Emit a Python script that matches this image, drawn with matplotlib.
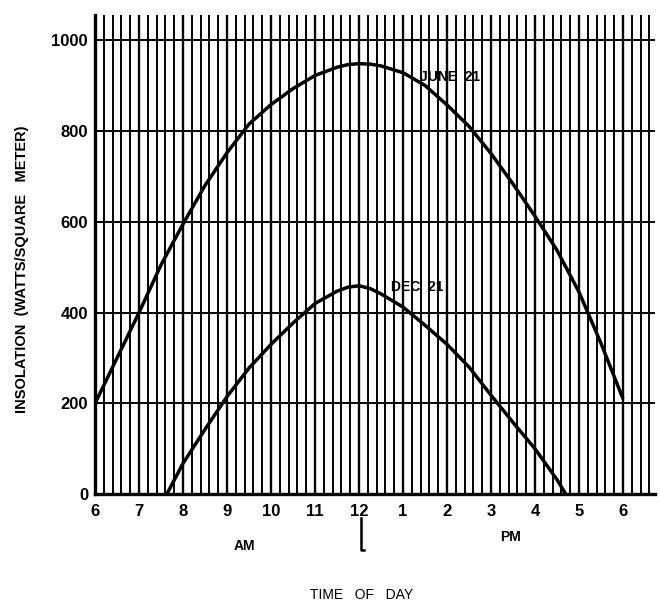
import numpy as np
import matplotlib
matplotlib.use('Agg')
import matplotlib.pyplot as plt
from matplotlib.ticker import MultipleLocator

# Insolation readings (hour of day, W/m^2)
june_hours = [6.0, 6.5, 7.0, 7.5, 8.0, 8.5, 9.0, 9.5, 10.0, 10.5, 11.0, 11.5, 11.75, 12.0,
              12.25, 12.5, 13.0, 13.5, 14.0, 14.5, 15.0, 15.5, 16.0, 16.5, 17.0, 17.5, 18.0]
june_values = [200, 300, 400, 505, 595, 680, 752, 815, 858, 893, 922, 940, 946, 948,
               947, 943, 928, 900, 857, 810, 750, 683, 612, 537, 445, 332, 210]

dec_hours = [7.63, 8.0, 8.5, 9.0, 9.5, 10.0, 10.5, 11.0, 11.5, 11.75, 12.0,
             12.25, 12.5, 13.0, 13.5, 14.0, 14.5, 15.0, 15.5, 16.0, 16.5, 16.7]
dec_values = [0, 68, 143, 215, 278, 330, 377, 420, 447, 456, 459,
              453, 441, 412, 372, 330, 280, 218, 158, 100, 32, 0]

hour_ticks = [6, 7, 8, 9, 10, 11, 12, 13, 14, 15, 16, 17, 18]
hour_labels = ['6', '7', '8', '9', '10', '11', '12', '1', '2', '3', '4', '5', '6']
y_ticks = [0, 200, 400, 600, 800, 1000]

plt.rcParams['font.family'] = ['Liberation Sans', 'DejaVu Sans']

fig = plt.figure(figsize=(6.6, 6.02), dpi=100)
ax = fig.add_axes([0.144, 0.179, 0.848, 0.796])

ax.set_xlim(6, 18.72)
ax.set_ylim(0, 1055)

# graph-paper grid: lines every 12 minutes, horizontal every 200
ax.set_xticks(hour_ticks)
ax.set_xticklabels(hour_labels, fontsize=12, fontweight='bold')
ax.xaxis.set_minor_locator(MultipleLocator(0.2))
ax.set_yticks(y_ticks)
ax.set_yticklabels([str(v) for v in y_ticks], fontsize=12, fontweight='bold')
ax.tick_params(which='both', length=0, pad=5)
ax.tick_params(axis='x', pad=7)
ax.grid(which='major', axis='x', color='black', lw=1.7)
ax.grid(which='minor', axis='x', color='black', lw=1.4)
ax.grid(which='major', axis='y', color='black', lw=1.4)
ax.set_axisbelow(True)

for s in ['top', 'right']:
    ax.spines[s].set_visible(False)
ax.spines['left'].set_linewidth(2.4)
ax.spines['bottom'].set_linewidth(2.4)

ax.plot(june_hours, june_values, color='black', lw=2.5, solid_capstyle='butt')
ax.plot(dec_hours, dec_values, color='black', lw=2.5, solid_capstyle='butt')

ax.text(13.38, 918, 'JUNE  21', fontsize=10, fontweight='bold', va='center', ha='left')
ax.text(12.72, 457, 'DEC  21', fontsize=10, fontweight='bold', va='center', ha='left')

ax.set_ylabel('INSOLATION  (WATTS/SQUARE   METER)', fontsize=10.5, fontweight='bold')
ax.yaxis.set_label_coords(-0.118, 0.47)

# AM / PM and noon marker below axis
ax.text(9.4, -0.108, 'AM', transform=ax.get_xaxis_transform(), fontsize=10,
        fontweight='bold', ha='center', va='center')
ax.text(15.45, -0.09, 'PM', transform=ax.get_xaxis_transform(), fontsize=10,
        fontweight='bold', ha='center', va='center')
ax.plot([12.05, 12.05, 12.12], [-0.05, -0.117, -0.117], transform=ax.get_xaxis_transform(),
        color='black', lw=1.8, clip_on=False)
ax.text(12.05, -0.21, 'TIME   OF   DAY', transform=ax.get_xaxis_transform(), fontsize=10,
        ha='center', va='center')

plt.savefig('out.png', dpi=100)
